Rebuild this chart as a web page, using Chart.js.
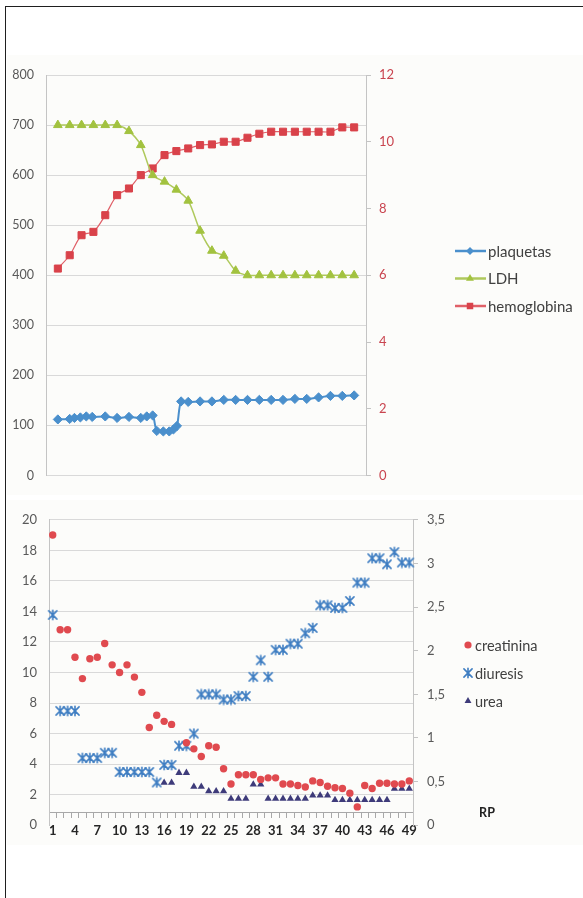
<!DOCTYPE html>
<html>
<head>
<meta charset="utf-8">
<title>Evolución</title>
<script src="https://cdn.jsdelivr.net/npm/chart.js@4.4.1/dist/chart.umd.min.js"></script>
<style>
  html, body { margin:0; padding:0; background:#ffffff; }
  body { width:583px; height:898px; position:relative; overflow:hidden; }
  #frame { position:absolute; left:5px; top:6px; width:640px; height:960px; border-top:1px solid #1f1f1f; border-left:1px solid #1f1f1f; }
  canvas { position:absolute; background:#fcfcfa; }
  #top { left:7px; top:55px; }
  #bottom { left:7px; top:500px; }
</style>
</head>
<body>
<div id="frame"></div>
<canvas id="top" width="576" height="440"></canvas>
<canvas id="bottom" width="576" height="345"></canvas>
<script>
// ---------------- DATA: top chart ----------------
const dias = [1,2,3,4,5,6,7,8,9,10,11,12,13,14,15,16,17,18,19,20,21,22,23,24,25,26];
const plaquetasDia = [1,2,2.4,2.9,3.4,3.9,5,6,7,8,8.5,9,9.35,9.9,10.4,10.75,11.05,11.4,12,13,14,15,16,17,18,19,20,21,22,23,24,25,26];
const plaquetas = [112,113,115,116,118,117,118,115,117,115,118,120,89,88,88,92,99,148,147,148,148,151,151,151,151,151,151,153,153,156,159,159,160];
const ldh = [700,700,700,700,700,700,688,660,600,587,571,549,489,449,439,409,400,400,400,400,400,400,400,400,400,400];
const hemoglobina = [6.2,6.6,7.2,7.3,7.8,8.4,8.6,9.0,9.2,9.6,9.72,9.8,9.9,9.92,10.0,10.0,10.12,10.24,10.3,10.3,10.3,10.3,10.3,10.3,10.43,10.43];
const ticksIzqSup = [0,100,200,300,400,500,600,700,800];
const ticksDerSup = [0,2,4,6,8,10,12];

// ---------------- DATA: bottom chart ----------------
const categorias = [1,2,3,4,5,6,7,8,9,10,11,12,13,14,15,16,17,18,19,20,21,22,23,24,25,26,27,28,29,30,31,32,33,34,35,36,37,38,39,40,41,42,43,44,45,46,47,48,49];
const creatinina = [19.0,12.8,12.8,11.0,9.6,10.9,11.0,11.9,10.5,10.0,10.5,9.7,8.7,6.4,7.2,6.8,6.6,null,5.4,5.0,4.5,5.2,5.1,3.7,2.7,3.3,3.3,3.3,3.0,3.1,3.1,2.7,2.7,2.6,2.5,2.9,2.8,2.55,2.45,2.4,2.1,1.2,2.6,2.4,2.75,2.75,2.7,2.7,2.9];
const diuresis = [2.41,1.31,1.31,1.31,0.77,0.77,0.77,0.83,0.83,0.61,0.61,0.61,0.61,0.61,0.49,0.69,0.69,0.91,0.91,1.05,1.50,1.50,1.50,1.44,1.44,1.48,1.48,1.70,1.89,1.70,2.01,2.01,2.08,2.08,2.20,2.26,2.52,2.52,2.49,2.49,2.57,2.78,2.78,3.06,3.06,2.99,3.13,3.01,3.01];
const urea = [null,null,null,null,null,null,null,null,null,null,null,null,null,null,null,2.78,2.78,3.43,3.43,2.52,2.52,2.23,2.23,2.23,1.74,1.74,1.74,2.67,2.67,1.74,1.74,1.74,1.74,1.74,1.74,1.95,1.95,1.95,1.65,1.65,1.65,1.65,1.65,1.65,1.65,1.65,2.39,2.39,2.39];
const ejeXTitulo = 'RP';

// ---------------- helpers ----------------
function makeStar(color, size, lw) {
  const c = document.createElement('canvas');
  c.width = size; c.height = size;
  const g = c.getContext('2d');
  g.strokeStyle = color; g.lineWidth = lw; g.lineCap = 'round';
  const m = size / 2, a = size / 2 - 1.2;
  g.beginPath();
  g.moveTo(m - a * 0.85, m - a * 0.85); g.lineTo(m + a * 0.85, m + a * 0.85);
  g.moveTo(m + a * 0.85, m - a * 0.85); g.lineTo(m - a * 0.85, m + a * 0.85);
  g.moveTo(m, m - a); g.lineTo(m, m + a);
  g.stroke();
  return c;
}

function drawMarker(ctx, style, r, x, y, fill, stroke, bw) {
  ctx.save();
  if (style instanceof HTMLCanvasElement) {
    ctx.drawImage(style, x - style.width / 2, y - style.height / 2);
    ctx.restore();
    return;
  }
  ctx.beginPath();
  if (style === 'circle') ctx.arc(x, y, r, 0, Math.PI * 2);
  else if (style === 'rect') { const s = r * Math.SQRT1_2; ctx.rect(x - s, y - s, 2 * s, 2 * s); }
  else if (style === 'rectRot') { ctx.moveTo(x - r, y); ctx.lineTo(x, y - r); ctx.lineTo(x + r, y); ctx.lineTo(x, y + r); ctx.closePath(); }
  else if (style === 'triangle') {
    const t = 2 * Math.PI / 3;
    ctx.moveTo(x, y - r);
    ctx.lineTo(x + Math.sin(t) * r, y - Math.cos(t) * r);
    ctx.lineTo(x + Math.sin(2 * t) * r, y - Math.cos(2 * t) * r);
    ctx.closePath();
  }
  ctx.fillStyle = fill; ctx.fill();
  if (bw) { ctx.lineWidth = bw; ctx.strokeStyle = stroke; ctx.stroke(); }
  ctx.restore();
}

const legendPlugin = {
  id: 'customLegend',
  afterDraw(chart, args, o) {
    const ctx = chart.ctx;
    ctx.save();
    chart.data.datasets.forEach((ds, i) => {
      const y = o.y + i * o.gap;
      if (o.line) {
        ctx.beginPath();
        ctx.strokeStyle = ds.borderColor; ctx.lineWidth = o.lineWidth;
        ctx.moveTo(o.x0, y); ctx.lineTo(o.x1, y); ctx.stroke();
      }
      drawMarker(ctx, ds.pointStyle, o.radius[i], o.mx, y, ds.pointBackgroundColor, ds.pointBorderColor, 0);
      ctx.font = o.font; ctx.fillStyle = o.color; ctx.textBaseline = 'middle'; ctx.textAlign = 'left';
      ctx.fillText(ds.label, o.tx, y + 1);
    });
    if (o.title) {
      ctx.font = o.titleFont; ctx.fillStyle = '#222'; ctx.textAlign = 'center';
      ctx.fillText(o.title, o.titleX, o.titleY);
    }
    ctx.restore();
  }
};

// ---------------- TOP CHART ----------------
const cBlue = '#4A8FCC', cGreen = '#A2C23F', cRed = '#D9424A';
new Chart(document.getElementById('top'), {
  type: 'line',
  data: {
    datasets: [
      { label: 'plaquetas', data: plaquetasDia.map((d, i) => ({ x: d, y: plaquetas[i] })), yAxisID: 'y',
        borderColor: cBlue, borderWidth: 2, tension: 0.3, pointStyle: 'rectRot', pointRadius: 4.6,
        pointBackgroundColor: cBlue, pointBorderColor: cBlue, pointBorderWidth: 1 },
      { label: 'LDH', data: dias.map((d, i) => ({ x: d, y: ldh[i] })), yAxisID: 'y',
        borderColor: '#AFC95C', borderWidth: 1.5, tension: 0.3, pointStyle: 'triangle', pointRadius: 5,
        pointBackgroundColor: cGreen, pointBorderColor: cGreen, pointBorderWidth: 1 },
      { label: 'hemoglobina', data: dias.map((d, i) => ({ x: d, y: hemoglobina[i] })), yAxisID: 'y1',
        borderColor: '#E06068', borderWidth: 1.2, tension: 0.3, pointStyle: 'rect', pointRadius: 5,
        pointBackgroundColor: cRed, pointBorderColor: cRed, pointBorderWidth: 1 }
    ]
  },
  options: {
    responsive: false, animation: false, events: [],
    layout: { padding: { left: 0, right: 0, top: 20, bottom: 16 } },
    plugins: {
      legend: { display: false }, tooltip: { enabled: false },
      customLegend: { x0: 448, x1: 479, mx: 463, tx: 481, y: 196, gap: 27.5, line: true, lineWidth: 2.5,
        radius: [4, 4.6, 4.6], font: '15px Lato', color: '#404040' }
    },
    scales: {
      x: { type: 'linear', min: 0, max: 27, display: false },
      y: { position: 'left', min: 0, max: 800,
        afterBuildTicks(s) { s.ticks = ticksIzqSup.map(v => ({ value: v })); },
        ticks: { padding: 12, color: '#595959', font: { family: 'Lato', size: 12.5 } },
        grid: { color: '#d9d9d9', drawTicks: false, lineWidth: 1 },
        border: { display: true, color: '#c4c4c4' },
        afterFit(s) { s.width = 39; } },
      y1: { position: 'right', min: 0, max: 12,
        afterBuildTicks(s) { s.ticks = ticksDerSup.map(v => ({ value: v })); },
        ticks: { padding: 8, color: '#C9444F', font: { family: 'Lato', size: 13 } },
        grid: { drawOnChartArea: false, drawTicks: true, tickLength: 5, color: '#c4c4c4' },
        border: { display: true, color: '#c4c4c4' },
        afterFit(s) { s.width = 217; } }
    }
  },
  plugins: [legendPlugin]
});

// ---------------- BOTTOM CHART ----------------
const cCrea = '#E04A4F', cDiu = '#3F7EC2', cUrea = '#3E3B7A';
const starImg = makeStar(cDiu, 12, 1.6);
new Chart(document.getElementById('bottom'), {
  type: 'line',
  data: {
    labels: categorias.map(String),
    datasets: [
      { label: 'creatinina', data: creatinina, yAxisID: 'y', showLine: false, borderColor: cCrea,
        pointStyle: 'circle', pointRadius: 3.7, pointBackgroundColor: cCrea, pointBorderColor: cCrea, pointBorderWidth: 0 },
      { label: 'diuresis', data: diuresis, yAxisID: 'y1', showLine: false, borderColor: cDiu,
        pointStyle: starImg, pointRadius: 5, pointBackgroundColor: cDiu, pointBorderColor: cDiu, pointBorderWidth: 0 },
      { label: 'urea', data: urea, yAxisID: 'y', showLine: false, borderColor: cUrea,
        pointStyle: 'triangle', pointRadius: 4.2, pointBackgroundColor: cUrea, pointBorderColor: cUrea, pointBorderWidth: 0 }
    ]
  },
  options: {
    responsive: false, animation: false, events: [],
    layout: { padding: { left: 0, right: 0, top: 19, bottom: 19 } },
    plugins: {
      legend: { display: false }, tooltip: { enabled: false },
      customLegend: { mx: 461, tx: 468, y: 145, gap: 28, line: false,
        radius: [3.6, 5, 4], font: '14.5px Lato', color: '#404040',
        title: ejeXTitulo, titleFont: 'bold 12.5px Lato', titleX: 480, titleY: 313 }
    },
    scales: {
      x: { type: 'category', position: { y: 0.8 }, offset: true,
        grid: { offset: true, drawOnChartArea: false, drawTicks: true, tickLength: 5, color: '#a8a8a8' },
        border: { display: true, color: '#a8a8a8' },
        ticks: { autoSkip: false, maxRotation: 0, minRotation: 0, padding: 5, color: '#262626',
          font: { family: 'Lato', size: 13, weight: 'bold' },
          callback(v, i) { return i % 3 === 0 ? String(categorias[i]) : ''; } } },
      y: { position: 'left', min: 0, max: 20,
        ticks: { stepSize: 2, padding: 12, color: '#595959', font: { family: 'Lato', size: 13 } },
        grid: { drawTicks: false, color: c => (c.tick && c.tick.value === 0) ? 'rgba(0,0,0,0)' : '#d9d9d9' },
        border: { display: true, color: '#c4c4c4' },
        afterFit(s) { s.width = 42; } },
      y1: { position: 'right', min: 0, max: 3.5,
        ticks: { stepSize: 0.5, padding: 9, color: '#595959', font: { family: 'Lato', size: 13 },
          callback(v) { return String(v).replace('.', ','); } },
        grid: { drawOnChartArea: false, drawTicks: true, tickLength: 5, color: '#c4c4c4' },
        border: { display: true, color: '#c4c4c4' },
        afterFit(s) { s.width = 170; } }
    }
  },
  plugins: [legendPlugin]
});
</script>
</body>
</html>
